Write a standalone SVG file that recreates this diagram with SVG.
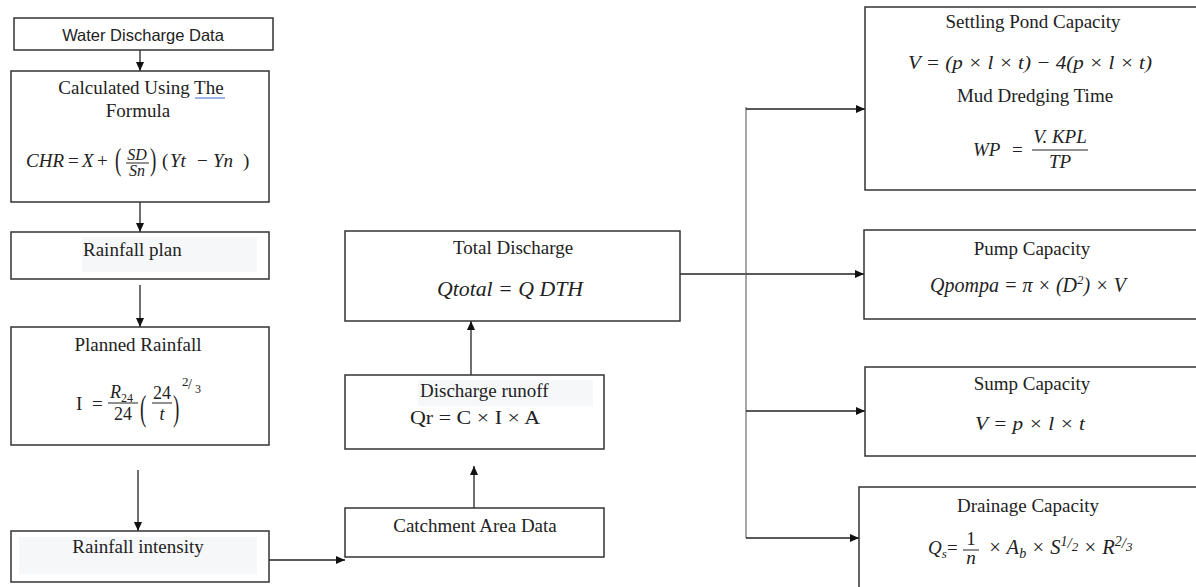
<svg xmlns="http://www.w3.org/2000/svg" width="1196" height="587" viewBox="0 0 1196 587">
<defs>
<style>
.box{fill:#fff;stroke:#333;stroke-width:1.5}
.shade{fill:#f6f7f9;stroke:none}
.t{font-family:"Liberation Serif",serif;font-size:19px;fill:#222;text-anchor:middle}
.s{font-family:"Liberation Sans",sans-serif;font-size:16px;fill:#222;text-anchor:middle}
.m{font-family:"Liberation Serif",serif;font-style:italic;font-size:19px;fill:#222}
.u{font-family:"Liberation Serif",serif;font-size:19px;fill:#222}
.st{text-anchor:start}
.mid{text-anchor:middle}
.c{stroke:#222;stroke-width:1.3;fill:none}
.a{marker-end:url(#ah)}
.g{stroke:#777}
.fb{stroke:#222;stroke-width:1}
</style>
<marker id="ah" markerUnits="userSpaceOnUse" viewBox="0 0 9 8" markerWidth="9" markerHeight="8" refX="9" refY="4" orient="auto">
<path d="M0,0 L9,4 L0,8 z" fill="#111"/>
</marker>
</defs>
<rect width="1196" height="587" fill="#fff"/>

<g id="connectors">
<path class="c a" d="M140,50 V71"/>
<path class="c a" d="M140,202 V232"/>
<path class="c a" d="M140,285 V327"/>
<path class="c a" d="M138,470 V531"/>
<path class="c a" d="M269,560 H345"/>
<path class="c a" d="M474,508 V466"/>
<path class="c a" d="M471,375 V321"/>
<path class="c" d="M680,274 H746"/>
<path class="c g" d="M746,107 V538"/>
<path class="c a" d="M746,109 H865"/>
<path class="c a" d="M746,274 H864"/>
<path class="c a" d="M746,411 H865"/>
<path class="c a" d="M746,538 H859"/>
</g>

<g id="water-discharge-data">
<rect class="box" x="14" y="18" width="259" height="32"/>
<text class="s" x="143" y="41" style="font-size:16.5px">Water Discharge Data</text>
</g>

<g id="calculated">
<rect class="box" x="11" y="71" width="258" height="131"/>
<text class="t" x="141" y="94">Calculated Using The</text>
<line x1="195" y1="98" x2="225" y2="98" stroke="#5b7fd6" stroke-width="1.2"/>
<text class="t" x="138" y="117">Formula</text>
<text class="m" x="26" y="167">CHR</text>
<text class="u" x="68" y="167">=</text>
<text class="m" x="82" y="167">X</text>
<text class="u" x="97" y="167">+</text>
<text class="u" transform="translate(115,170) scale(1,1.7)">(</text>
<text class="m mid" x="137" y="160" style="font-size:16px">SD</text>
<line class="fb" x1="126" y1="163" x2="149" y2="163"/>
<text class="m mid" x="137" y="176" style="font-size:16px">Sn</text>
<text class="u" transform="translate(150,170) scale(1,1.7)">)</text>
<text class="u" x="162" y="167">(</text>
<text class="m" x="170" y="167">Yt</text>
<text class="u" x="197" y="167">−</text>
<text class="m" x="213" y="167">Yn</text>
<text class="u" x="243" y="167">)</text>
</g>

<g id="rainfall-plan">
<rect class="box" x="11" y="232" width="258" height="47"/>
<rect class="shade" x="82" y="237" width="175" height="35"/>
<text class="t st" x="83" y="256">Rainfall plan</text>
</g>

<g id="planned-rainfall">
<rect class="box" x="11" y="327" width="258" height="118"/>
<text class="t" x="138" y="351">Planned Rainfall</text>
<text class="u" x="76" y="410">I</text>
<text class="u" x="92" y="410">=</text>
<text class="m" x="110" y="398" style="font-size:18px">R</text>
<text class="u" x="121" y="402" style="font-size:12px">24</text>
<line class="fb" x1="108" y1="403" x2="138" y2="403"/>
<text class="u mid" x="123" y="420" style="font-size:18px">24</text>
<text class="u" transform="translate(140,420) scale(1,1.9)">(</text>
<text class="u mid" x="162" y="399" style="font-size:18px">24</text>
<line class="fb" x1="152" y1="403" x2="172" y2="403"/>
<text class="m mid" x="162" y="420" style="font-size:18px">t</text>
<text class="u" transform="translate(173,420) scale(1,1.9)">)</text>
<text class="u" x="182" y="386" style="font-size:13px">2</text>
<text class="u" x="188" y="389" style="font-size:14px">/</text>
<text class="u" x="195" y="393" style="font-size:12px">3</text>
</g>

<g id="rainfall-intensity">
<rect class="box" x="11" y="531" width="258" height="51"/>
<rect class="shade" x="19" y="537" width="238" height="37"/>
<text class="t" x="138" y="553">Rainfall intensity</text>
</g>

<g id="catchment-area-data">
<rect class="box" x="345" y="508" width="259" height="49"/>
<text class="t" x="475" y="532">Catchment Area Data</text>
</g>

<g id="discharge-runoff">
<rect class="box" x="345" y="375" width="259" height="74"/>
<rect class="shade" x="418" y="380" width="175" height="26"/>
<text class="t st" x="420" y="397">Discharge runoff</text>
<text class="u" x="410" y="424" style="font-size:18px" textLength="130" lengthAdjust="spacingAndGlyphs">Qr  = C  × I  × A</text>
</g>

<g id="total-discharge">
<rect class="box" x="345" y="231" width="335" height="90"/>
<text class="t" x="513" y="254">Total Discharge</text>
<text class="m" x="437" y="296" style="font-size:20px" textLength="146" lengthAdjust="spacingAndGlyphs">Qtotal = Q DTH</text>
</g>

<g id="settling-pond-capacity">
<rect class="box" x="865" y="7" width="340" height="183"/>
<text class="t" x="1033" y="28">Settling Pond Capacity</text>
<text class="m" x="908" y="69" textLength="244" lengthAdjust="spacingAndGlyphs">V = (p × l × t) − 4(p × l × t)</text>
<text class="t" x="1035" y="102">Mud Dredging Time</text>
<text class="m" x="973" y="156">WP</text>
<text class="u" x="1012" y="156">=</text>
<text class="m mid" x="1060" y="143">V. KPL</text>
<line class="fb" x1="1032" y1="150" x2="1088" y2="150"/>
<text class="m mid" x="1060" y="168">TP</text>
</g>

<g id="pump-capacity">
<rect class="box" x="864" y="230" width="341" height="89"/>
<text class="t" x="1032" y="255">Pump Capacity</text>
<text class="m" x="930" y="292" style="font-size:20px">Qpompa = π × (D<tspan dy="-8" font-size="13">2</tspan><tspan dy="8">) × V</tspan></text>
</g>

<g id="sump-capacity">
<rect class="box" x="865" y="367" width="340" height="89"/>
<text class="t" x="1032" y="390">Sump Capacity</text>
<text class="m" x="975" y="430" textLength="110" lengthAdjust="spacingAndGlyphs">V = p × l × t</text>
</g>

<g id="drainage-capacity">
<rect class="box" x="859" y="487" width="346" height="110"/>
<text class="t" x="1028" y="512">Drainage Capacity</text>
<text class="m" x="928" y="554">Q<tspan font-size="13" dy="4">s</tspan></text>
<text class="u" x="947" y="554">=</text>
<text class="u mid" x="971" y="545">1</text>
<line class="fb" x1="963" y1="550" x2="979" y2="550"/>
<text class="m mid" x="971" y="564">n</text>
<text class="m" x="988" y="554" style="font-size:20.5px">× A<tspan font-size="14" dy="4">b</tspan><tspan dy="-4"> × S</tspan><tspan font-size="14" dy="-8">1</tspan><tspan font-size="15" dy="2">/</tspan><tspan font-size="13" dy="3">2</tspan><tspan dy="3"> × R</tspan><tspan font-size="14" dy="-8">2</tspan><tspan font-size="15" dy="2">/</tspan><tspan font-size="13" dy="3">3</tspan></text>
</g>
</svg>
